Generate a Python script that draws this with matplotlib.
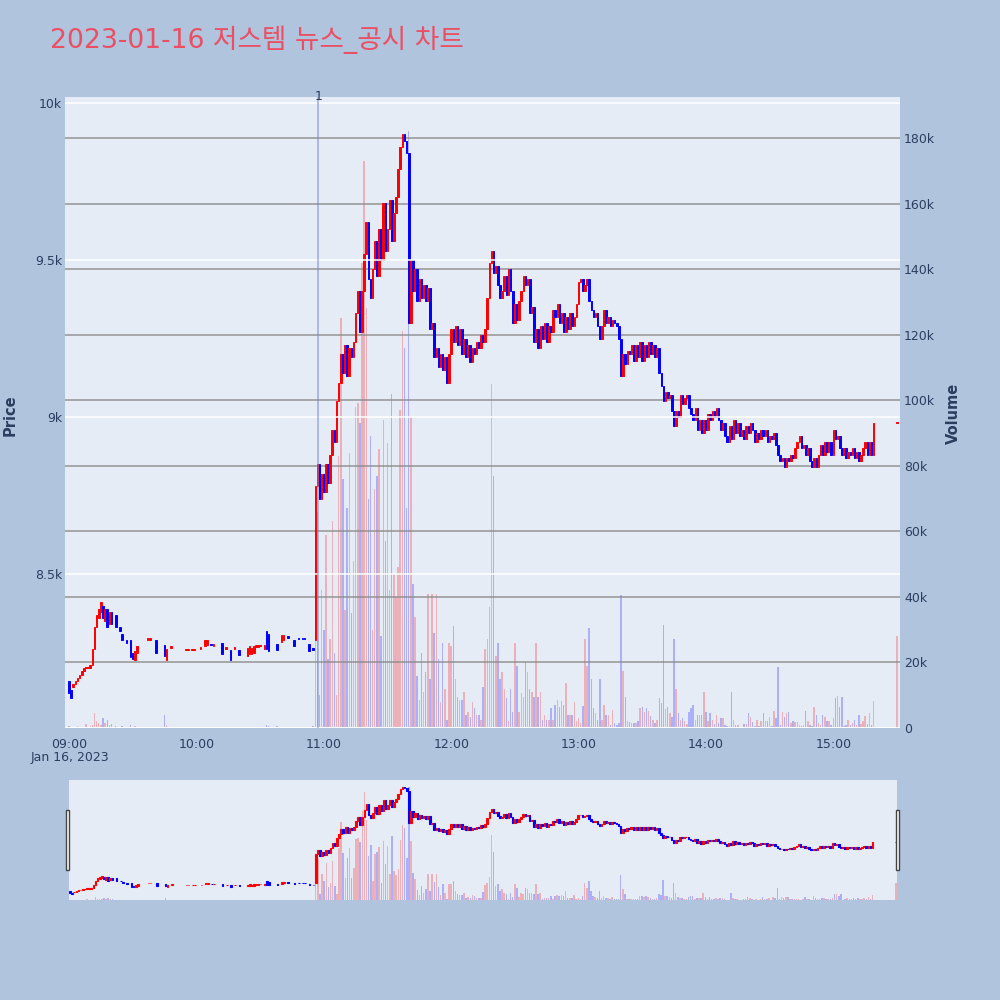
import datetime as dt
import numpy as np
import matplotlib
matplotlib.use("Agg")
import matplotlib.pyplot as plt
import matplotlib.dates as mdates
from matplotlib.patches import Rectangle

title = "2023-01-16 저스템 뉴스_공시 차트"
day_start = dt.datetime(2023, 1, 16, 9, 0)
news_time = dt.datetime(2023, 1, 16, 10, 57, 20)
news_label = "1"

# morning: thin trading, minutes after 09:00 (volume in thousands)
am_min = [0, 1, 2, 3, 4, 5, 6, 7, 8, 9, 10, 11, 12, 13, 14, 15, 16, 17, 18, 19, 20,
          22, 24, 25, 27, 29, 30, 31, 32, 37, 38, 41, 45, 46, 48,
          55, 56, 58, 59, 62, 64, 65, 67, 68, 72, 74, 76, 78, 80,
          84, 85, 86, 87, 88, 89, 90, 92, 93, 94, 98,
          100, 101, 103, 106, 108, 110, 111, 113, 115]
am_open = [8160, 8130, 8140, 8150, 8160, 8170, 8180, 8190, 8200, 8200, 8200, 8210, 8260, 8330, 8360, 8380, 8400, 8350, 8390, 8340, 8380,
           8370, 8330, 8310, 8290, 8290, 8250, 8225, 8250, 8290, 8290, 8290, 8275, 8225, 8265,
           8258, 8258, 8258, 8258, 8262, 8270, 8275, 8278, 8272, 8282, 8262, 8258, 8262, 8258,
           8240, 8245, 8245, 8250, 8268, 8268, 8270, 8260, 8320, 8310, 8278,
           8285, 8290, 8302, 8290, 8297, 8297, 8297, 8278, 8265]
am_close = [8120, 8105, 8150, 8160, 8170, 8180, 8190, 8200, 8205, 8205, 8210, 8260, 8330, 8370, 8390, 8410, 8360, 8390, 8330, 8380, 8340,
            8330, 8320, 8290, 8280, 8235, 8230, 8255, 8270, 8295, 8295, 8250, 8240, 8260, 8270,
            8262, 8262, 8262, 8262, 8266, 8290, 8290, 8274, 8276, 8245, 8266, 8228, 8266, 8243,
            8265, 8270, 8265, 8270, 8272, 8272, 8274, 8275, 8260, 8255, 8257,
            8305, 8305, 8298, 8270, 8293, 8293, 8293, 8255, 8258]
am_vol = [0.6, 0.4, 0.3, 0.3, 0.5, 0.3, 0.4, 0.4, 1.2, 0.3, 0.5, 0.8, 4.6, 2.0, 1.5, 0.9, 3.0, 1.5, 2.5, 1.0, 1.2,
          0.6, 0.3, 0.6, 0.3, 0.8, 0.4, 0.5, 0.3, 0.2, 0.2, 0.4, 4.0, 0.8, 0.2,
          0.2, 0.2, 0.2, 0.2, 0.2, 0.3, 0.2, 0.2, 0.2, 0.4, 0.2, 0.3, 0.2, 0.3,
          0.3, 0.3, 0.3, 0.2, 0.2, 0.2, 0.2, 0.4, 0.8, 0.7, 0.5,
          0.4, 0.3, 0.2, 0.3, 0.2, 0.2, 0.2, 0.4, 0.6]

# from 10:56 one candle per minute, open = previous close
pm_start = 116
pm_first_open = 8290
pm_close = [
    8780, 8850, 8740, 8820, 8760, 8850, 8790, 8880, 8960, 8920,
    9050, 9110, 9200, 9140, 9230, 9130, 9220, 9190, 9240, 9330,
    9400, 9270, 9400, 9520, 9620, 9440, 9380, 9470, 9560, 9450,
    9600, 9500, 9680, 9530, 9600, 9690, 9560, 9650, 9700, 9790,
    9860, 9900, 9880, 9840, 9300, 9500, 9400, 9470, 9370, 9440,
    9380, 9420, 9370, 9410, 9280, 9300, 9190, 9220, 9160, 9200,
    9150, 9190, 9110, 9200, 9280, 9240, 9290, 9230, 9280, 9200,
    9250, 9190, 9230, 9175, 9220, 9200, 9240, 9220, 9260, 9240,
    9280, 9380, 9490, 9530, 9460, 9480, 9420, 9380, 9400, 9450,
    9390, 9470, 9400, 9300, 9360, 9310, 9370, 9400, 9450, 9420,
    9440, 9330, 9350, 9240, 9280, 9220, 9290, 9250, 9300, 9240,
    9290, 9270, 9340, 9320, 9360, 9300, 9330, 9270, 9320, 9280,
    9330, 9290, 9320, 9360, 9430, 9440, 9400, 9420, 9440, 9370,
    9340, 9320, 9330, 9290, 9250, 9290, 9340, 9300, 9320, 9290,
    9310, 9300, 9290, 9250, 9130, 9200, 9170, 9210, 9200, 9230,
    9180, 9230, 9190, 9240, 9180, 9230, 9190, 9240, 9200, 9230,
    9190, 9220, 9140, 9100, 9050, 9080, 9060, 9070, 9020, 8970,
    9020, 9000, 9070, 9040, 9060, 9070, 9030, 9010, 8990, 9030,
    8960, 8990, 8950, 8990, 8960, 9010, 8990, 9020, 9000, 9030,
    8990, 8960, 8980, 8940, 8920, 8970, 8930, 8990, 8950, 8980,
    8940, 8960, 8930, 8970, 8950, 8980, 8960, 8920, 8950, 8930,
    8960, 8940, 8960, 8920, 8940, 8930, 8950, 8910, 8880, 8860,
    8870, 8840, 8870, 8860, 8880, 8870, 8900, 8920, 8940, 8900,
    8910, 8880, 8900, 8860, 8840, 8870, 8840, 8880, 8910, 8880,
    8920, 8890, 8920, 8880, 8960, 8930, 8940, 8900, 8880, 8900,
    8870, 8890, 8880, 8900, 8870, 8890, 8860, 8880, 8900, 8920,
    8880, 8920, 8880, 8980]
pm_vol = [
    60, 66, 10, 42, 30, 59, 21, 27, 63, 23,
    10, 83, 125, 76, 36, 67, 84, 35, 51, 98,
    99, 93, 142, 173, 128, 70, 89, 30, 73, 77,
    85, 28, 94, 57, 87, 42, 102, 47, 40, 49,
    97, 121, 116, 67, 182, 95, 44, 34, 16, 8.5,
    23, 11, 17, 41, 15, 41, 29, 41, 21, 8,
    26, 12, 2.4, 26, 25, 31, 15, 9.5, 8.5, 8.5,
    11, 4, 5, 3.5, 8, 6, 4, 4, 2.5, 12.6,
    24, 27, 37, 105, 77, 22, 26, 15, 17, 12,
    9, 2, 12, 5, 26, 19, 5, 10.7, 9.4, 20,
    17, 12, 11, 9.5, 26, 9.5, 11, 2.3, 4, 2.5,
    2.5, 6, 2.3, 7, 8.5, 6.5, 8.3, 7, 13.8, 4,
    4, 4, 8, 2, 3, 1.5, 6.6, 27, 19, 30.5,
    15, 6, 4.5, 2.5, 15, 2.5, 7, 4, 4, 1,
    5.6, 1.5, 1, 1.5, 40.6, 17.4, 9.5, 2.2, 1.8, 1.5,
    1.5, 1.5, 2, 6, 6.5, 5, 6, 5.2, 3.8, 2.4,
    1.5, 2.5, 9.3, 7.5, 31.4, 5.8, 6.5, 4.6, 3.3, 27,
    12, 4.5, 2.5, 3, 2.2, 1.3, 4.9, 6, 7, 2.4,
    4, 4, 4, 11, 5, 2, 4.5, 2.4, 1.3, 4,
    1.5, 3, 3.2, 1, 0.5, 0.5, 11, 2.5, 1, 1,
    0.3, 0.3, 1.2, 1.2, 4.5, 3.3, 1.8, 0.5, 2.4, 0.6,
    2, 4.5, 2.2, 2, 3.5, 0.5, 5.3, 3, 18.6, 1,
    5, 3.5, 4.6, 5, 1.5, 2, 1.7, 1.7, 1, 0.5,
    1, 5.3, 2, 0.9, 0.5, 6.5, 4, 1.5, 0.9, 4,
    3.3, 2, 2.2, 1, 3, 9.3, 9.7, 6.3, 9.4, 0.5,
    0.9, 2.5, 1, 1.5, 2.5, 0.9, 4, 1.2, 2.2, 3.7,
    1.2, 4.6, 0.9, 8.2]

# closing auction 15:30
auction_min = 390
auction_price = 8980
auction_vol = 28

price_ticks = [8500, 9000, 9500, 10000]
vol_ticks = [0, 20, 40, 60, 80, 100, 120, 140, 160, 180]

assert len(pm_close) == len(pm_vol)

RED = "#ff0000"
BLUE = "#0000ff"
BG = "#b0c4de"
PLOT_BG = "#e5ecf6"
TXT = "#2a3f5f"
MIN = 1 / 1440

minutes = am_min + list(range(pm_start, pm_start + len(pm_close))) + [auction_min]
opens = np.array(am_open + [pm_first_open] + pm_close[:-1] + [auction_price], float)
closes = np.array(am_close + pm_close + [auction_price], float)
vols = np.array(am_vol + pm_vol + [auction_vol], float)
x = mdates.date2num([day_start + dt.timedelta(minutes=m) for m in minutes])
cols = [RED if c >= o else BLUE for o, c in zip(opens, closes)]
bottoms = np.minimum(opens, closes)
heights = np.maximum(np.abs(closes - opens), 5)

y_price = (8010, 10019)
y_vol = (0, 192.5)


def draw_panel(rect, body_w, lw):
    # base axes carries volume (right side), twin carries price on top of it
    axv = fig.add_axes(rect)
    ax = axv.twinx()
    axv.set_facecolor(PLOT_BG)
    ax.patch.set_visible(False)
    ax.set_zorder(axv.get_zorder() + 1)
    axv.bar(x, vols, width=0.7 * MIN, color=cols, alpha=0.25, linewidth=0)
    ax.bar(x, heights, bottom=bottoms, width=body_w * MIN, color=cols,
           edgecolor=cols, linewidth=lw)
    ax.set_ylim(*y_price)
    axv.set_ylim(*y_vol)
    for a in (ax, axv):
        for s in a.spines.values():
            s.set_visible(False)
    return ax, axv


fig = plt.figure(figsize=(10, 10), dpi=100, facecolor=BG)

# main chart
ax, axv = draw_panel([0.065, 0.272, 0.835, 0.631], 0.75, 0.7)
ax.yaxis.tick_left()
axv.yaxis.tick_right()
axv.set_xlim(mdates.date2num(day_start - dt.timedelta(minutes=1.9)),
             mdates.date2num(day_start + dt.timedelta(minutes=391.4)))

ax.set_yticks(price_ticks)
ax.set_yticklabels([f"{t / 1000:g}k" for t in price_ticks])
ax.yaxis.grid(True, color="white", linewidth=1.1)
axv.set_yticks(vol_ticks)
axv.set_yticklabels(["0" if v == 0 else f"{v}k" for v in vol_ticks])
axv.yaxis.grid(True, color="#8c8c8c", linewidth=1.2, alpha=0.85)
axv.axhline(0, color="white", linewidth=2.2, zorder=3)
ax.xaxis.grid(False)
axv.xaxis.grid(False)

ax.tick_params(axis="y", length=0, pad=2, labelsize=9, labelcolor=TXT)
axv.tick_params(axis="y", length=0, pad=3, labelsize=9, labelcolor=TXT)
axv.tick_params(axis="x", length=0, pad=7, labelsize=9, labelcolor=TXT)
axv.xaxis.set_major_locator(mdates.HourLocator())
axv.xaxis.set_major_formatter(mdates.DateFormatter("%H:%M"))

# news marker
news_x = mdates.date2num(news_time)
ax.axvline(news_x, color="#6f86d6", alpha=0.55, linewidth=1.3)
ax.text(news_x, 1.0, news_label, transform=ax.get_xaxis_transform(),
        ha="center", va="center", fontsize=9, color=TXT)

fig.text(0.07, 0.242, "Jan 16, 2023", ha="center", va="center", fontsize=9, color=TXT)
fig.text(0.010, 0.585, "Price", rotation=90, ha="center", va="center",
         fontsize=10.5, fontweight="bold", color=TXT)
fig.text(0.953, 0.587, "Volume", rotation=90, ha="center", va="center",
         fontsize=10.5, fontweight="bold", color=TXT)
fig.text(0.05, 0.96, title, ha="left", va="center", fontsize=19.2, color="#ea4f63",
         family=["DejaVu Sans", "Noto Sans CJK KR"])

# range slider
s_price, s_vol = draw_panel([0.069, 0.100, 0.828, 0.120], 0.8, 0.8)
s_vol.set_xlim(mdates.date2num(day_start - dt.timedelta(minutes=0.5)),
               mdates.date2num(day_start + dt.timedelta(minutes=390.5)))
for a in (s_price, s_vol):
    a.set_xticks([])
    a.set_yticks([])
for hx in (0.0655, 0.8955):
    fig.patches.append(Rectangle((hx, 0.130), 0.0035, 0.060, transform=fig.transFigure,
                                 facecolor="white", edgecolor="#444444", linewidth=1.0))

fig.savefig("out.png", dpi=100, facecolor=BG)
